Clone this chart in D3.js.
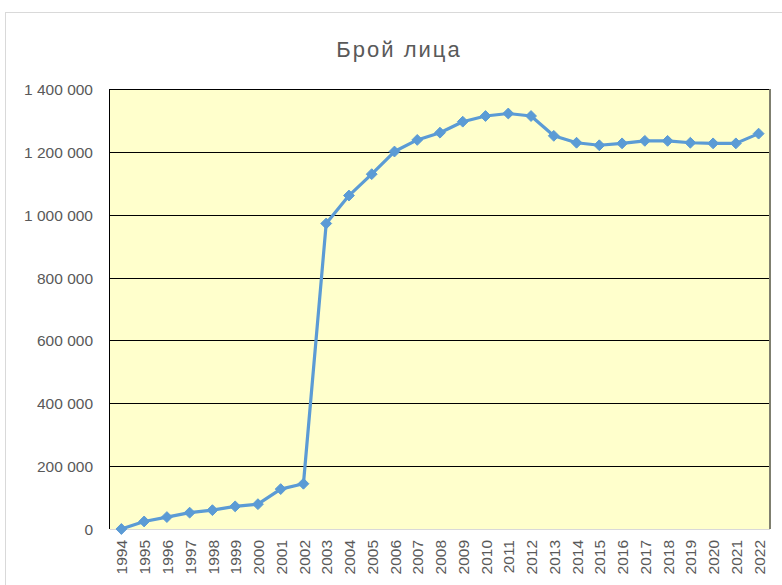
<!DOCTYPE html>
<html>
<head>
<meta charset="utf-8">
<script src="https://cdn.jsdelivr.net/npm/d3@7"></script>
<style>
  body { margin: 0; background: #fff; }
  text { font-family: "Liberation Sans", Arial, sans-serif; fill: #595959; }
</style>
</head>
<body>
<svg id="chart" width="782" height="585"></svg>
<script>
// data
const years = ["1994","1995","1996","1997","1998","1999","2000","2001","2002","2003","2004","2005","2006","2007","2008",
  "2009","2010","2011","2012","2013","2014","2015","2016","2017","2018","2019","2020","2021","2022"];
const persons = [0, 24000, 38000, 52000, 60000, 72000, 79000, 127000, 144000, 972000, 1061000, 1129000, 1201000, 1238000, 1261000,
  1296000, 1314000, 1322000, 1314000, 1251000, 1229000, 1221000, 1227000, 1235000, 1235000, 1229000, 1227000, 1227000, 1258000];
const yTicks = [0, 200000, 400000, 600000, 800000, 1000000, 1200000, 1400000];
const title = "Брой лица";

const svg = d3.select("#chart");
const plotLeft = 110, plotRight = 770, plotTop = 89, plotBottom = 529;

// outer chart border
svg.append("rect")
  .attr("x", 5.5).attr("y", 12.5)
  .attr("width", 800).attr("height", 600)
  .attr("fill", "#fff").attr("stroke", "#d9d9d9");

svg.append("text")
  .attr("x", 399).attr("y", 57)
  .attr("text-anchor", "middle")
  .style("font-size", "22px")
  .style("letter-spacing", "2px")
  .text(title);

const x = d3.scalePoint().domain(years).range([plotLeft, plotRight]).padding(0.5);
const y = d3.scaleLinear().domain([0, 1400000]).range([plotBottom, plotTop]);

// plot area
svg.append("rect")
  .attr("x", plotLeft).attr("y", plotTop)
  .attr("width", plotRight - plotLeft).attr("height", plotBottom - plotTop)
  .attr("fill", "#ffffcc");

// grid lines
svg.append("g")
  .selectAll("line")
  .data(yTicks.filter(d => d > 0))
  .join("line")
    .attr("x1", plotLeft).attr("x2", plotRight)
    .attr("y1", d => Math.round(y(d)) + 0.5)
    .attr("y2", d => Math.round(y(d)) + 0.5)
    .attr("stroke", "#000")
    .attr("stroke-width", 1);

// borders
svg.append("line")
  .attr("x1", plotLeft).attr("x2", plotRight).attr("y1", plotBottom + 0.5).attr("y2", plotBottom + 0.5)
  .attr("stroke", "#d9d9d9");
svg.append("line")
  .attr("x1", plotRight).attr("x2", plotRight).attr("y1", plotTop).attr("y2", plotBottom)
  .attr("stroke", "#7f7f6f").attr("stroke-width", 2);
svg.append("line")
  .attr("x1", plotLeft - 0.5).attr("x2", plotLeft - 0.5).attr("y1", plotTop).attr("y2", plotBottom)
  .attr("stroke", "#000");

// y axis labels
const fmt = d => d3.format(",")(d).replace(/,/g, " ");
const yAxis = svg.append("g")
  .attr("transform", `translate(${plotLeft - 17},0)`)
  .call(d3.axisLeft(y).tickValues(yTicks).tickFormat(fmt).tickSize(0).tickPadding(0));
yAxis.select(".domain").remove();
yAxis.selectAll("text")
  .attr("dy", "0.35em")
  .style("font-size", "15.5px")
  .style("font-family", "'Liberation Sans', Arial, sans-serif")
  .attr("fill", "#595959");

// x axis labels
const xAxis = svg.append("g")
  .attr("transform", `translate(0,${plotBottom})`)
  .call(d3.axisBottom(x).tickSize(0).tickPadding(0));
xAxis.select(".domain").remove();
xAxis.selectAll("text")
  .attr("transform", "rotate(-90)")
  .attr("text-anchor", "end")
  .attr("x", -11)
  .attr("y", 0)
  .attr("dy", "0.36em")
  .style("font-size", "15.5px")
  .style("font-family", "'Liberation Sans', Arial, sans-serif")
  .attr("fill", "#595959");

// line and markers
const line = d3.line()
  .x((d, i) => x(years[i]))
  .y(d => y(d));

svg.append("path")
  .datum(persons)
  .attr("d", line)
  .attr("fill", "none")
  .attr("stroke", "#5b9bd5")
  .attr("stroke-width", 3.2)
  .attr("stroke-linejoin", "round");

svg.append("g")
  .selectAll("path")
  .data(persons)
  .join("path")
    .attr("d", d3.symbol(d3.symbolDiamond2, 75))
    .attr("transform", (d, i) => `translate(${x(years[i])},${y(d)})`)
    .attr("fill", "#5b9bd5")
    .attr("stroke", "#5b9bd5")
    .attr("stroke-width", 1);
</script>
</body>
</html>
